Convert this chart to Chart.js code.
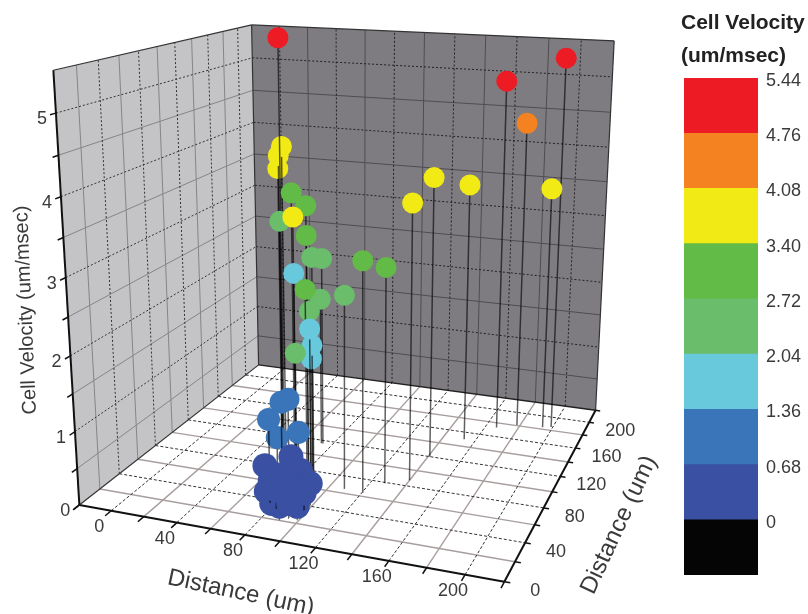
<!DOCTYPE html>
<html>
<head>
<meta charset="utf-8">
<title>Cell Velocity</title>
<script src="https://cdn.jsdelivr.net/npm/chart.js@4"></script>
<style>
body { margin: 0; background: #fff; width: 808px; height: 614px; overflow: hidden; position: relative; }
#plot { position: absolute; left: 0; top: 0; }
#scale { position: absolute; left: 660px; top: 0; }
.head { position: absolute; left: 681px; font: bold 21px 'Liberation Sans', Arial, sans-serif; color: #222; white-space: nowrap; line-height: 24px; }
</style>
</head>
<body>
<canvas id="plot" width="808" height="614"></canvas>
<canvas id="scale" width="148" height="614"></canvas>
<div class="head" style="top:10px">Cell Velocity</div>
<div class="head" style="top:43px">(um/msec)</div>
<script>
// Cells, in paint order (back to front)
const cellX = [199,194,178,167,153,141,140,128,120,109,85,83,91,90,96,85,78,87,86,86,74,82,73,86,85,87,83,87,74,70,79,60,69,61,89,81,73,84,87,99,76,84,90,99,94,87,98,87,77,83,94];
const cellY = [185,183,181,173,150,120,87,79,65,66,36,41,28,28,28,70,52,49,68,75,116,60,116,71,68,71,81,69,78,76,70,82,69,69,50,54,39,49,31,41,34,24,21,24,34,31,35,37,37,32,24];
const cellVelocity = [5.34,3.54,4.44,5.03,3.69,3.92,3.76,2.95,3.11,2.63,4.35,4.48,4.66,5.91,4.12,3.71,3.60,3.69,3.34,3.01,2.70,2.89,2.12,2.32,2.63,1.68,1.77,2.10,1.66,1.02,0.64,0.38,1.04,0.77,0.35,0.28,0.47,0.53,0.48,0.30,0.18,0.16,0.18,0.18,0.23,0.23,0.23,0.34,0.30,0.25,0.20];
const cellBin = [7,5,6,7,5,5,5,4,4,3,5,5,5,7,4,4,3,5,4,3,3,2,3,3,4,2,2,2,3,1,1,1,1,1,0,0,0,0,0,0,0,0,0,0,0,0,0,0,0,0,0];

// Colour scale
const binColors = ['#3a50a2','#3a74b9','#68c9dd','#6abd6a','#62bb46','#f2ea15','#f58220','#ed1c24'];
const binRadius = [12.5,11.5,10.5,10.5,10.5,10.5,10.5,10.5];
const legendEdges = [-0.68,0,0.68,1.36,2.04,2.72,3.40,4.08,4.76,5.44];
const legendColors = ['#050505','#3a50a2','#3a74b9','#68c9dd','#6abd6a','#62bb46','#f2ea15','#f58220','#ed1c24'];
const legendTicks = [0,0.68,1.36,2.04,2.72,3.40,4.08,4.76,5.44];

// Axis ticks
const xLabels = [0,40,80,120,160,200];
const xMinor = [20,60,100,140,180];
const yLabels = [0,40,80,120,160,200];
const yMinor = [20,60,100,140,180];
const zLabels = [0,1,2,3,4,5];
const zMinor = [0.5,1.5,2.5,3.5,4.5];
const xMin = -20, xMax = 220, yMin = 0, yMax = 220, zMin = 0, zMax = 5.5;

// Camera fitted on the corners of the box
const cam = [
  [156.0655, 116.5967, -5.6069, 111.2887],
  [6.2334, -15.7013, -80.8435, 510.7238],
  [-0.0448, 0.1330, -0.0157, 1]
];
function project(x, y, z) {
  const v = [x / 100, y / 100, z, 1];
  const dot = r => r[0]*v[0] + r[1]*v[1] + r[2]*v[2] + r[3]*v[3];
  const w = dot(cam[2]);
  return { x: dot(cam[0]) / w, y: dot(cam[1]) / w };
}

const font = "'Liberation Sans', Arial, sans-serif";

// Walls, floor, grid and axes behind the cells
const box3d = {
  id: 'box3d',
  beforeDatasetsDraw(chart) {
    const ctx = chart.ctx, sx = chart.scales.x, sy = chart.scales.y;
    const at = (x, y, z) => { const p = project(x, y, z); return [sx.getPixelForValue(p.x), sy.getPixelForValue(p.y)]; };
    const poly = (pts, color) => {
      ctx.beginPath();
      pts.forEach((p, i) => { const q = at(...p); i ? ctx.lineTo(q[0], q[1]) : ctx.moveTo(q[0], q[1]); });
      ctx.closePath();
      ctx.fillStyle = color;
      ctx.fill();
    };
    const line = (a, b, color, width, dash) => {
      const p = at(...a), q = at(...b);
      ctx.beginPath();
      ctx.setLineDash(dash || []);
      ctx.moveTo(p[0], p[1]);
      ctx.lineTo(q[0], q[1]);
      ctx.strokeStyle = color;
      ctx.lineWidth = width;
      ctx.stroke();
      ctx.setLineDash([]);
    };
    const label = (text, x, y, size, rot) => {
      ctx.save();
      ctx.translate(x, y);
      ctx.rotate((rot || 0) * Math.PI / 180);
      ctx.font = size + 'px ' + font;
      ctx.fillStyle = '#3a3a3a';
      ctx.textAlign = 'center';
      ctx.textBaseline = 'middle';
      ctx.fillText(text, 0, 0);
      ctx.restore();
    };

    ctx.save();
    poly([[xMin,yMin,zMin],[xMin,yMax,zMin],[xMin,yMax,zMax],[xMin,yMin,zMax]], '#c4c4c7');
    poly([[xMin,yMax,zMin],[xMax,yMax,zMin],[xMax,yMax,zMax],[xMin,yMax,zMax]], '#7e7c80');

    // minor grid (solid), then major grid (dashed)
    const dash = [2, 2];
    xMinor.forEach(x => {
      line([x,yMin,zMin],[x,yMax,zMin],'#a89e9e',1.4);
      line([x,yMax,zMin],[x,yMax,zMax],'#4f4d51',1);
    });
    yMinor.forEach(y => {
      line([xMin,y,zMin],[xMax,y,zMin],'#a89e9e',1.4);
      line([xMin,y,zMin],[xMin,y,zMax],'#85858a',1);
    });
    zMinor.forEach(z => {
      line([xMin,yMin,z],[xMin,yMax,z],'#85858a',1);
      line([xMin,yMax,z],[xMax,yMax,z],'#4f4d51',1);
    });
    xLabels.forEach(x => {
      line([x,yMin,zMin],[x,yMax,zMin],'#333',1,[3,2]);
      line([x,yMax,zMin],[x,yMax,zMax],'#222',1,dash);
    });
    yLabels.slice(1).forEach(y => {
      line([xMin,y,zMin],[xMax,y,zMin],'#333',1,[3,2]);
      line([xMin,y,zMin],[xMin,y,zMax],'#333',1,dash);
    });
    zLabels.slice(1).forEach(z => {
      line([xMin,yMin,z],[xMin,yMax,z],'#333',1,dash);
      line([xMin,yMax,z],[xMax,yMax,z],'#222',1,dash);
    });

    // box edges
    line([xMin,yMin,zMax],[xMin,yMax,zMax],'#333',1.2);
    line([xMin,yMax,zMax],[xMax,yMax,zMax],'#333',1.2);
    line([xMin,yMax,zMin],[xMin,yMax,zMax],'#333',1.2);
    line([xMax,yMax,zMin],[xMax,yMax,zMax],'#333',1.2);
    line([xMin,yMin,zMin],[xMin,yMax,zMin],'#333',1.2);
    line([xMin,yMax,zMin],[xMax,yMax,zMin],'#222',1.4);
    line([xMin,yMin,zMin],[xMin,yMin,zMax],'#111',2);
    line([xMin,yMin,zMin],[xMax,yMin,zMin],'#111',2);
    line([xMax,yMin,zMin],[xMax,yMax,zMin],'#111',2);

    // ticks
    xLabels.concat(xMinor, [xMin, xMax]).forEach(x => line([x,yMin,zMin],[x,yMin-6,zMin],'#111',1.5));
    yLabels.concat(yMinor, [yMax]).forEach(y => line([xMax,y,zMin],[xMax+3,y,zMin],'#111',1.5));
    zLabels.concat(zMinor).forEach(z => line([xMin,yMin,z],[xMin,yMin-5,z],'#111',1.5));

    // tick labels
    xLabels.forEach(x => { const p = at(x,yMin,zMin); label(String(x), p[0]-12, p[1]+16, 18); });
    yLabels.forEach(y => { const p = at(xMax,y,zMin); label(String(y), p[0]+31, p[1]+9, 18); });
    zLabels.forEach(z => { const p = at(xMin,yMin,z); label(String(z), p[0]-14, p[1]+6, 18); });

    // axis titles
    label('Distance (um)', 241, 593, 24, 12);
    label('Distance (um)', 619, 525, 24, -65);
    label('Cell Velocity (um/msec)', 26, 310, 20, -92.5);
    ctx.restore();
  }
};

const cellDatasets = cellX.map((x, i) => ({
  data: [project(x, cellY[i], 0), project(x, cellY[i], cellVelocity[i])],
  showLine: true,
  borderColor: 'rgba(0,0,0,0.62)',
  borderWidth: 1.5,
  pointRadius: [0, binRadius[cellBin[i]]],
  pointBorderWidth: 0,
  pointBackgroundColor: binColors[cellBin[i]],
  order: cellX.length - i
}));

new Chart(document.getElementById('plot'), {
  type: 'scatter',
  data: { datasets: cellDatasets },
  options: {
    responsive: false,
    animation: false,
    layout: { padding: 0, autoPadding: false },
    plugins: { legend: { display: false }, tooltip: { enabled: false } },
    scales: {
      x: { type: 'linear', display: false, min: 0, max: 808 },
      y: { type: 'linear', display: false, min: 0, max: 614, reverse: true }
    }
  },
  plugins: [box3d]
});

// Colour bar
new Chart(document.getElementById('scale'), {
  type: 'bar',
  data: {
    labels: ['Cell Velocity'],
    datasets: legendColors.map((c, i) => ({
      data: [[legendEdges[i], legendEdges[i + 1]]],
      backgroundColor: c,
      grouped: false,
      barPercentage: 1,
      categoryPercentage: 1
    }))
  },
  options: {
    responsive: false,
    animation: false,
    layout: { padding: { left: 24, right: 0, top: 78, bottom: 39 } },
    plugins: { legend: { display: false }, tooltip: { enabled: false } },
    scales: {
      x: { display: false },
      y: {
        position: 'right',
        min: -0.68,
        max: 5.44,
        grid: { display: false, drawTicks: false },
        border: { display: false },
        afterFit: a => { a.width = 50; },
        afterBuildTicks: a => { a.ticks = legendTicks.map(v => ({ value: v })); },
        ticks: {
          autoSkip: false,
          color: '#3a3a3a',
          padding: 8,
          labelOffset: 3,
          font: { family: font, size: 18 },
          callback: v => v === 0 ? '0' : v.toFixed(2)
        }
      }
    }
  }
});
</script>
</body>
</html>
